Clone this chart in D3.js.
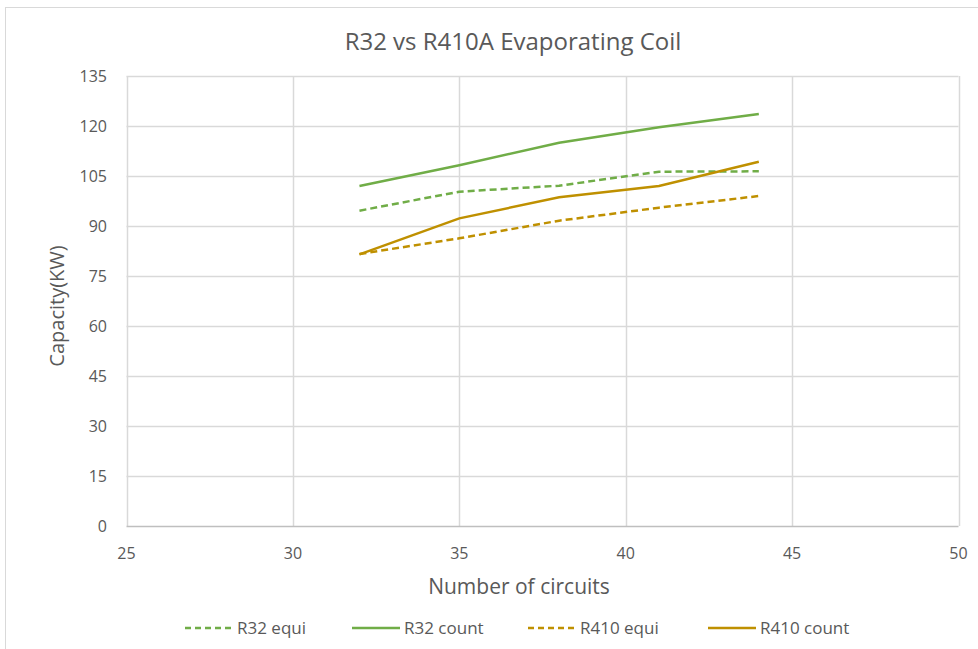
<!DOCTYPE html>
<html>
<head>
<meta charset="utf-8">
<script src="https://cdn.jsdelivr.net/npm/d3@7"></script>
<style>
  body { margin: 0; background: #fff; }
  text { font-family: "Open Sans", "Noto Sans", sans-serif; fill: #595959; }
</style>
</head>
<body>
<svg id="chart" width="978" height="649"></svg>
<script>
// circuits on the x axis
var circuits = [32, 35, 38, 41, 44];
var r32Equi   = [94.6, 100.3, 102.1, 106.3, 106.4];
var r32Count  = [102, 108.2, 115, 119.6, 123.6];
var r410Equi  = [81.6, 86.3, 91.6, 95.5, 99];
var r410Count = [81.5, 92.3, 98.6, 102, 109.3];
var xTicks = [25, 30, 35, 40, 45, 50];
var yTicks = [0, 15, 30, 45, 60, 75, 90, 105, 120, 135];

var series = [
  {name: 'R32 equi', values: r32Equi, color: '#70AD47', dash: '7,4'},
  {name: 'R32 count', values: r32Count, color: '#70AD47', dash: null},
  {name: 'R410 equi', values: r410Equi, color: '#BF9000', dash: '7,4'},
  {name: 'R410 count', values: r410Count, color: '#BF9000', dash: null}
];

var svg = d3.select('#chart');

// chart frame
svg.append('rect')
  .attr('x', 5.5).attr('y', 7.5)
  .attr('width', 990).attr('height', 660)
  .attr('fill', 'none')
  .attr('stroke', '#D9D9D9');

var x = d3.scaleLinear().domain([25, 50]).range([126.5, 958.5]);
var y = d3.scaleLinear().domain([0, 135]).range([526, 76]);

// grid
svg.append('g').selectAll('line')
  .data(yTicks.slice(1))
  .enter().append('line')
  .attr('x1', x(25)).attr('x2', x(50))
  .attr('y1', function(d) { return Math.round(y(d)) + 0.5; })
  .attr('y2', function(d) { return Math.round(y(d)) + 0.5; })
  .style('stroke', '#D9D9D9').style('stroke-width', 1.5);

svg.append('g').selectAll('line')
  .data(xTicks)
  .enter().append('line')
  .attr('x1', function(d) { return Math.round(x(d)) + 0.5; })
  .attr('x2', function(d) { return Math.round(x(d)) + 0.5; })
  .attr('y1', y(0)).attr('y2', y(135))
  .style('stroke', '#D9D9D9').style('stroke-width', 1.5);

// x axis baseline
svg.append('line')
  .attr('x1', x(25)).attr('x2', x(50))
  .attr('y1', y(0) + 0.5).attr('y2', y(0) + 0.5)
  .style('stroke', '#BFBFBF').style('stroke-width', 1.5);

// tick labels
svg.append('g').selectAll('text')
  .data(yTicks)
  .enter().append('text')
  .attr('x', 107)
  .attr('y', function(d) { return y(d) + 6; })
  .attr('text-anchor', 'end')
  .style('font-size', '16px')
  .text(function(d) { return d; });

svg.append('g').selectAll('text')
  .data(xTicks)
  .enter().append('text')
  .attr('x', function(d) { return x(d); })
  .attr('y', 559)
  .attr('text-anchor', 'middle')
  .style('font-size', '16px')
  .text(function(d) { return d; });

// titles
svg.append('text')
  .attr('x', 513).attr('y', 50)
  .attr('text-anchor', 'middle')
  .style('font-size', '24px')
  .text('R32 vs R410A Evaporating Coil');

svg.append('text')
  .attr('x', 519).attr('y', 594)
  .attr('text-anchor', 'middle')
  .style('font-size', '21px')
  .text('Number of circuits');

svg.append('text')
  .attr('transform', 'translate(64,306) rotate(-90)')
  .attr('text-anchor', 'middle')
  .style('font-size', '20px')
  .text('Capacity(KW)');

// lines
var line = d3.line()
  .x(function(d, i) { return x(circuits[i]); })
  .y(function(d) { return y(d); });

svg.append('g').selectAll('path')
  .data(series)
  .enter().append('path')
  .attr('d', function(s) { return line(s.values); })
  .attr('fill', 'none')
  .attr('stroke', function(s) { return s.color; })
  .attr('stroke-width', 2.5)
  .attr('stroke-dasharray', function(s) { return s.dash; });

// legend
var legendX = [185, 352, 528, 708];
var leg = svg.append('g').selectAll('g')
  .data(series)
  .enter().append('g')
  .attr('transform', function(s, i) { return 'translate(' + legendX[i] + ',628)'; });

leg.append('line')
  .attr('x1', 0).attr('x2', 48).attr('y1', 0).attr('y2', 0)
  .attr('stroke', function(s) { return s.color; })
  .attr('stroke-width', 2.5)
  .attr('stroke-dasharray', function(s) { return s.dash ? '6,4' : null; });

leg.append('text')
  .attr('x', 52).attr('y', 6)
  .style('font-size', '17px')
  .text(function(s) { return s.name; });
</script>
</body>
</html>
